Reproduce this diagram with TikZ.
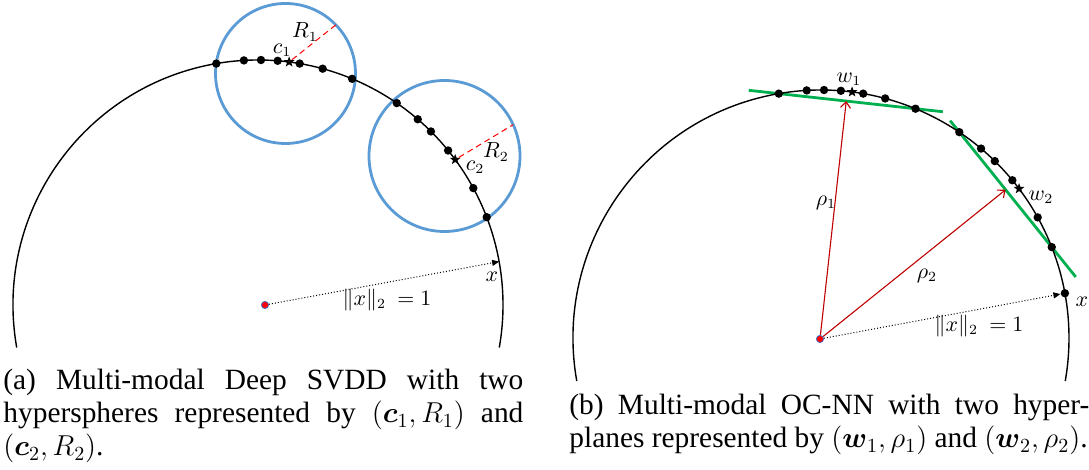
\documentclass[tikz,border=0pt]{standalone}
\usepackage{amsmath}
\usepackage{fontspec}
\setmainfont{Liberation Serif}
\usetikzlibrary{arrows.meta,calc,shapes.geometric}
\pgfdeclarelayer{background}
\pgfsetlayers{background,main}
\definecolor{sphereblue}{HTML}{5B9BD5}
\definecolor{planegreen}{HTML}{00B050}
\definecolor{rhored}{HTML}{C00000}
\definecolor{originblue}{HTML}{4472C4}

\begin{document}
\begin{tikzpicture}[x=0.5pt,y=0.5pt,
  dot/.style={circle,fill=black,inner sep=0pt,minimum size=4.2pt},
  centre/.style={star,star points=5,star point ratio=2.4,fill=black,inner sep=0pt,minimum size=5.6pt},
  origin/.style={circle,fill=red,draw=originblue,line width=0.4pt,inner sep=0pt,minimum size=3.6pt},
  lbl/.style={font=\fontsize{10.5}{12}\selectfont},
  capt/.style={anchor=base west,text width=260pt,align=justify,inner sep=0pt,font=\fontsize{14.7}{16.5}\selectfont},
  normline/.style={densely dotted,line width=0.5pt,-{Triangle[length=3.5pt,width=3pt]}},
  rholine/.style={rhored,line width=0.55pt,-{Straight Barb[length=3pt,width=5pt]}}]

  \useasboundingbox (0,0) rectangle (1089,470);

  % (a) two hyperspheres
  \coordinate (o1) at (258,165);
  \coordinate (s1) at (285.5,396.5);
  \coordinate (s2) at (444.5,314);
  \draw[sphereblue,line width=1.4pt] (s1) circle (70);
  \draw[sphereblue,line width=1.4pt] (s2) circle (75.5);
  \draw[line width=0.7pt] ($(o1)+(190:245)$) arc[start angle=190,end angle=-10,radius=245];
  \foreach \a [count=\i] in {99.8,93.3,89.3,85.4,80.2,74.7,67.4,55.5,49.3,45.1,39.1,28.5,21.0}
    \node[dot] (p\i) at ($(o1)+(\a:245)$) {};
  \node[centre] (c1) at ($(o1)+(82.7:245)$) {};
  \node[centre] (c2) at ($(o1)+(36.4:245)$) {};
  \coordinate (xa) at ($(o1)+(10.2:245)$);
  \coordinate (e1) at ($(s1)+(44:70)$);
  \coordinate (e2) at ($(s2)+(24.5:75.5)$);
  \draw[red,densely dashed,line width=0.5pt] (c1) -- (e1);
  \draw[red,densely dashed,line width=0.5pt] (c2) -- (e2);
  \node[lbl] (r1) at (305,438) {$R_1$};
  \node[lbl] (lc1) at (282,420) {$c_1$};
  \node[lbl] (r2) at (496,318) {$R_2$};
  \node[lbl] (lc2) at (475,303) {$c_2$};
  \node[origin] (z1) at (265,165) {};
  \draw[normline] (z1) -- (xa);
  \node[lbl] (xl1) at (492,193) {$x$};
  \node[lbl] (nl1) at (387,170) {$\|x\|_2\ = 1$};

  % (b) two hyperplanes
  \coordinate (o2) at (821,132);
  \draw[line width=0.7pt] ($(o2)+(190:248)$) arc[start angle=190,end angle=-10,radius=248];
  \foreach \a [count=\i] in {99.8,93.3,89.3,85.4,80.2,75.0,67.6,56.1,49.8,45.5,39.5,29.1,21.5}
    \node[dot] (q\i) at ($(o2)+(\a:248)$) {};
  \node[centre] (w1) at ($(o2)+(82.8:248)$) {};
  \node[centre] (w2) at ($(o2)+(37.0:248)$) {};
  \node[dot] (xd) at ($(o2)+(10.4:248)$) {};
  \coordinate (g1a) at ($(q1)!-0.22!(q7)$);
  \coordinate (g1b) at ($(q1)!1.2!(q7)$);
  \coordinate (g2a) at ($(q8)!-0.1!(q13)$);
  \coordinate (g2b) at ($(q8)!1.26!(q13)$);
  \begin{pgfonlayer}{background}
    \draw[planegreen,line width=1.4pt] (g1a) -- (g1b);
    \draw[planegreen,line width=1.4pt] (g2a) -- (g2b);
  \end{pgfonlayer}
  \node[origin] (z2) at (820,131) {};
  \draw[rholine] (z2) -- ($(g1a)!(z2)!(g1b)$);
  \draw[rholine] (z2) -- ($(g2a)!(z2)!(g2b)$);
  \draw[normline] (z2) -- (xd);
  \node[lbl] (lr1) at (826,267) {$\rho_1$};
  \node[lbl] (lr2) at (927,194) {$\rho_2$};
  \node[lbl] (lw1) at (849,391) {$w_1$};
  \node[lbl] (lw2) at (1041,273) {$w_2$};
  \node[lbl] (xl2) at (1082,168) {$x$};
  \node[lbl] (nl2) at (979,144) {$\|x\|_2\ = 1$};

  % captions
  \node[capt] (capa) at (3,80) {(a) Multi-modal Deep SVDD with two\linebreak hyperspheres represented by $(\boldsymbol{c}_1,R_1)$ and\linebreak $(\boldsymbol{c}_2,R_2)$.};
  \node[capt] (capb) at (569,55) {(b) Multi-modal OC-NN with two hyper-\linebreak planes represented by $(\boldsymbol{w}_1,\rho_1)$ and $(\boldsymbol{w}_2,\rho_2)$.};
\end{tikzpicture}
\end{document}
